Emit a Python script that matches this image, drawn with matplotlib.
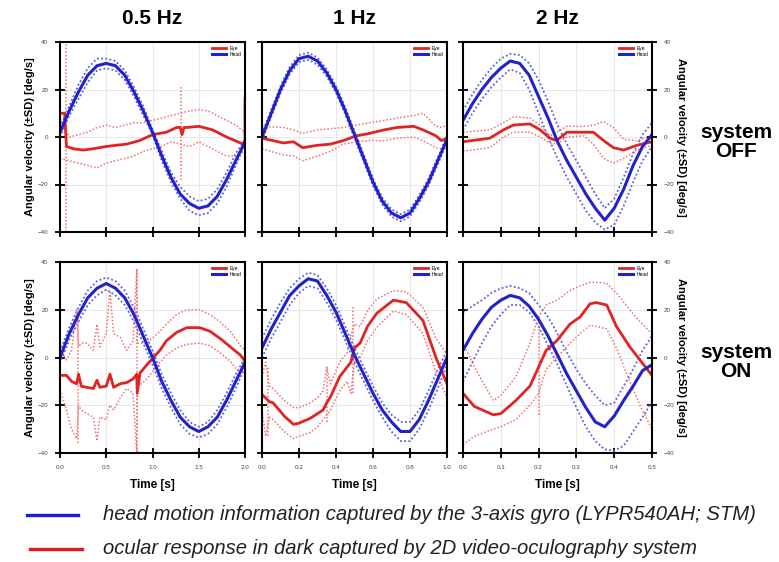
import matplotlib
matplotlib.use('Agg')
import matplotlib.pyplot as plt
from matplotlib.lines import Line2D

plt.rcParams['font.family'] = ['Liberation Sans', 'DejaVu Sans']

W, H = 779, 562

# ---------------- data ----------------
# 0.5 Hz, system OFF
t_head_05 = [0, 0.1, 0.2, 0.3, 0.4, 0.5, 0.6, 0.7, 0.8, 0.9, 1.0, 1.1, 1.2, 1.3, 1.4, 1.5, 1.6, 1.7, 1.8, 1.9, 2.0]
head_05_off = [2, 11, 19, 26, 30, 31, 30, 26, 19, 11, 2, -8, -17, -24, -28, -30, -29, -25, -18, -10, -2]
head_up_05_off = [4, 13, 22, 29, 33, 33, 32, 28, 21, 13, 3, -6, -15, -21, -25, -27, -26, -22, -15, -7, -1]
head_lo_05_off = [0, 9, 16, 23, 28, 29, 28, 24, 17, 9, 1, -10, -19, -26, -31, -33, -32, -28, -21, -12, -3]
t_eye_05_off = [0, 0.05, 0.07, 0.15, 0.25, 0.35, 0.5, 0.6, 0.72, 0.86, 1.0, 1.15, 1.26, 1.3, 1.32, 1.34, 1.37, 1.5, 1.65, 1.8, 1.95, 2.0, 2.0]
eye_05_off = [10, 10, -4, -5, -5.5, -5, -4, -3.5, -3, -1.5, 1, 2, 4, 4, 1, 4, 4, 4.5, 3, 0, -2.5, -3, 16]
t_eyesd_05_off = t_head_05
eye_up_05_off = [8, 0, 1, 2, 4, 5, 4, 5, 6, 6, 7, 8, 9, 10, 11, 11.5, 11, 9, 7, 5, 2]
eye_lo_05_off = [-9, -10, -11, -12, -13, -11, -10, -9, -8, -6, -5, -4, -2, -3, -4, -2, -4, -6, -8, -8, -6]
spk_t_05_off = [0.06, 1.31]
spk_lo_05_off = [-40, -18]
spk_hi_05_off = [40, 22]

# 1 Hz, system OFF
t_head_1 = [0, 0.05, 0.1, 0.15, 0.2, 0.25, 0.3, 0.35, 0.4, 0.45, 0.5, 0.55, 0.6, 0.65, 0.7, 0.75, 0.8, 0.85, 0.9, 0.95, 1.0]
head_1_off = [0, 10, 20, 28, 33, 34, 32, 27, 20, 11, 1, -9, -19, -27, -32, -34, -32, -26, -19, -10, -1]
head_up_1_off = [1.5, 11.5, 21.5, 29.5, 34.5, 35.5, 33.5, 28.5, 21.5, 12.5, 2.5, -7.5, -17.5, -25.5, -30.5, -32.5, -30.5, -24.5, -17.5, -8.5, 0.5]
head_lo_1_off = [-1.5, 8.5, 18.5, 26.5, 31.5, 32.5, 30.5, 25.5, 18.5, 9.5, -0.5, -10.5, -20.5, -28.5, -33.5, -35.5, -33.5, -27.5, -20.5, -11.5, -2.5]
t_eye_1_off = [0, 0.115, 0.17, 0.22, 0.30, 0.37, 0.44, 0.51, 0.58, 0.66, 0.73, 0.82, 0.87, 0.94, 0.97, 1.0]
eye_1_off = [-0.5, -2.5, -2, -4.5, -3.5, -3, -1.5, 0.5, 1.5, 3, 4, 4.5, 3, 0.5, -1.5, -0.5]
eye_up_1_off = [4.5, 4, 3, 1.5, 3, 3.5, 4, 5, 6, 7, 8, 9, 10, 4.5, 4, 5]
eye_lo_1_off = [-5, -7.5, -8, -10, -8, -6, -3, -2, -1.5, -1.5, -0.5, 0, -1.5, -4.5, -5, -4]

# 2 Hz, system OFF
t_head_2 = [0, 0.025, 0.05, 0.075, 0.1, 0.125, 0.15, 0.175, 0.2, 0.225, 0.25, 0.275, 0.3, 0.325, 0.35, 0.375, 0.4, 0.425, 0.45, 0.475, 0.5]
head_2_off = [7, 14, 20, 25, 29, 32, 31, 26, 17, 8, -2, -10, -17, -24, -30, -35, -30, -22, -12, -4, 1]
head_up_2_off = [11, 18, 24, 29, 33, 35, 34.5, 31, 24, 15, 5, -3, -10, -17, -24, -30, -26, -17, -7, 1, 6]
head_lo_2_off = [3, 10, 16, 21, 25, 28.5, 27, 20, 10, 0, -9, -17, -24, -31, -36, -39, -37, -29, -19, -10, -4]
t_eye_2_off = [0, 0.071, 0.107, 0.133, 0.177, 0.204, 0.23, 0.248, 0.275, 0.32, 0.345, 0.372, 0.398, 0.425, 0.46, 0.5]
eye_2_off = [-2, -0.5, 3, 5, 5.5, 3, -0.5, -1.5, 2, 2, 2, -1.5, -4.5, -5.5, -3.5, -2]
eye_up_2_off = [2, 3, 6, 8.5, 8, 5, 0.5, 2, 4.5, 4.5, 5, 6.5, 4, -1, -1.5, 0.5]
eye_lo_2_off = [-6, -4.5, 0, 2, 2, 0, -2.5, -3, 0, 0.5, -3, -9, -11, -9, -5.5, -3.5]

# 0.5 Hz, system ON
head_05_on = [0, 10, 18, 25, 29, 31, 29, 25, 18, 9, 0, -10, -18, -25, -29, -31, -29, -25, -18, -10, -2]
head_up_05_on = [2.5, 12.5, 21, 28, 32, 33.5, 32, 28, 21, 12, 3, -7, -15, -22, -27, -29, -27, -22, -15, -7, 0]
head_lo_05_on = [-2.5, 7.5, 15, 22, 26, 28.5, 26, 22, 15, 6, -3, -13, -21, -28, -32, -33.5, -32, -28, -21, -13, -4]
t_eye_05_on = [0, 0.07, 0.125, 0.18, 0.2, 0.23, 0.29, 0.36, 0.4, 0.43, 0.5, 0.54, 0.58, 0.65, 0.72, 0.79, 0.83, 0.835, 0.865, 0.94, 1.01, 1.08, 1.15, 1.26, 1.37, 1.51, 1.62, 1.73, 1.84, 1.95, 2.0]
eye_05_on = [-7.5, -7.5, -10, -11, -7, -12, -12.5, -13, -9.5, -12.5, -12, -7, -12.5, -11, -10.5, -9, -7, -15, -6.5, -3, 0, 3, 7, 10.5, 12.5, 12.5, 11, 8, 4.5, 1, -1.5]
eye_up_05_on = [3, -1, 3, 20, 4.5, 6, 6, 3, 14, 4.5, 10, 28, 10, 8.5, 3, 7, 37, 6, 6, 6, 8.5, 11, 14, 18, 20, 20, 18, 15, 11, 5, 3]
eye_lo_05_on = [-13.5, -22, -30, -34, -20, -22, -23.5, -25, -35, -25, -26, -20, -22, -17, -13, -15, -40, -12, -11.5, -9, -5.5, -2, 1, 4, 5.5, 6, 5, 2, -1.5, -7, -5]
spk_t_05_on = [0.83, 0.19]
spk_lo_05_on = [-40, -36]
spk_hi_05_on = [37, 20]

# 1 Hz, system ON
head_1_on = [4, 12, 19, 26, 30, 33, 32, 26, 19, 10, 1, -7, -15, -22, -27, -31, -31, -26, -18, -9, 0]
head_up_1_on = [8, 16, 23, 29, 33, 35.5, 34.5, 29, 22, 13, 4, -4, -12, -19, -24, -27, -27, -22, -14, -5, 3]
head_lo_1_on = [0, 8, 15, 22, 27, 30, 29, 23, 16, 7, -2, -10, -18, -25, -31, -35, -35, -30, -22, -13, -3]
t_eye_1_on = [0, 0.02, 0.04, 0.06, 0.12, 0.17, 0.2, 0.26, 0.3, 0.33, 0.35, 0.37, 0.42, 0.46, 0.48, 0.5, 0.53, 0.57, 0.62, 0.71, 0.78, 0.87, 0.94, 1.0]
eye_1_on = [-15.5, -17, -18.5, -19, -24.5, -28, -27.5, -25.5, -23.5, -22, -19, -16.5, -8, -4, -2, 4, 6, 13, 18.5, 24, 23, 15.5, 0, -11]
eye_up_1_on = [-8, -2, -12, -13, -18, -21, -21, -19, -17, -14, -4, -11, -2, 2, 9, 14, 13, 19.5, 24.5, 28, 27.5, 21, 8, 1.5]
eye_lo_1_on = [-22, -33, -25, -26, -31, -34, -33, -31.5, -29, -26, -24, -22, -14, -10, -15, -2, 0, 7, 12.5, 19.5, 18, 10, -6, -17]
spk_t_1_on = [0.03, 0.35, 0.49]
spk_lo_1_on = [-33, -27, -15]
spk_hi_1_on = [-4, -4, 22]

# 2 Hz, system ON
head_2_on = [3, 10, 16, 21, 24, 26, 25, 21.5, 16, 9, 1, -7, -14, -21, -27, -29, -24.5, -18, -12, -5.5, -3]
head_up_2_on = [19, 21.5, 24, 27, 29, 30, 29, 27, 22, 17, 10, 2, -5, -11, -16, -20, -19, -12, -5, 3, 9]
head_lo_2_on = [-10, -2, 6, 13, 18, 22, 22, 19, 13, 5, -3, -12, -21, -29, -35, -38.5, -39, -37, -31, -25, -18.5]
t_eye_2_on = [0, 0.03, 0.08, 0.1, 0.14, 0.177, 0.2, 0.22, 0.248, 0.283, 0.31, 0.336, 0.353, 0.38, 0.406, 0.441, 0.468, 0.5]
eye_2_on = [-15, -20.5, -24, -23.5, -18, -12, -4, 3, 7, 14, 17, 22.5, 23, 22, 13, 4.5, -1, -7.5]
eye_up_2_on = [6, -4, -18, -16, -8, 6, 17, 22, 24, 28, 30, 31.5, 31.5, 31, 27, 20, 15, 10]
eye_lo_2_on = [-36.5, -33, -30, -29, -26, -20, -15, -5, 0, 6, 10, 13.5, 13, 12, 4, -10, -20, -30]
spk_t_2_on = [0.2]
spk_lo_2_on = [-24]
spk_hi_2_on = [17]

titles = ['0.5 Hz', '1 Hz', '2 Hz']
x_max = [2.0, 1.0, 0.5]
x_step = [0.5, 0.2, 0.1]
y_ticks = [-40, -20, 0, 20, 40]

head_c = '#2222cc'
head_sd_c = '#5c5ce8'
eye_c = '#e02424'
eye_sd_c = '#f07070'


def fx(px):
    return px / W


def fy(py):
    return 1 - py / H


fig = plt.figure(figsize=(W / 100, H / 100), dpi=100)

lefts = [60, 262, 463]
widths = [185, 185, 189]
rows = [(42, 232), (262, 453)]

panels = [
    [
        (t_head_05, head_05_off, head_up_05_off, head_lo_05_off, t_eye_05_off, eye_05_off,
         t_eyesd_05_off, eye_up_05_off, eye_lo_05_off, spk_t_05_off, spk_lo_05_off, spk_hi_05_off),
        (t_head_1, head_1_off, head_up_1_off, head_lo_1_off, t_eye_1_off, eye_1_off,
         t_eye_1_off, eye_up_1_off, eye_lo_1_off, [], [], []),
        (t_head_2, head_2_off, head_up_2_off, head_lo_2_off, t_eye_2_off, eye_2_off,
         t_eye_2_off, eye_up_2_off, eye_lo_2_off, [], [], []),
    ],
    [
        (t_head_05, head_05_on, head_up_05_on, head_lo_05_on, t_eye_05_on, eye_05_on,
         t_eye_05_on, eye_up_05_on, eye_lo_05_on, spk_t_05_on, spk_lo_05_on, spk_hi_05_on),
        (t_head_1, head_1_on, head_up_1_on, head_lo_1_on, t_eye_1_on, eye_1_on,
         t_eye_1_on, eye_up_1_on, eye_lo_1_on, spk_t_1_on, spk_lo_1_on, spk_hi_1_on),
        (t_head_2, head_2_on, head_up_2_on, head_lo_2_on, t_eye_2_on, eye_2_on,
         t_eye_2_on, eye_up_2_on, eye_lo_2_on, spk_t_2_on, spk_lo_2_on, spk_hi_2_on),
    ],
]

dots = (0, (1, 1.3))

for r, (top, bot) in enumerate(rows):
    for c in range(3):
        (th, hm, hu, hl, te, em, tsd, eu, el, st, slo, shi) = panels[r][c]
        ax = fig.add_axes([fx(lefts[c]), fy(bot), fx(widths[c]), (bot - top) / H])
        ax.plot(th, hu, color=head_sd_c, lw=1.3, ls=dots)
        ax.plot(th, hl, color=head_sd_c, lw=1.3, ls=dots)
        ax.plot(tsd, eu, color=eye_sd_c, lw=1.1, ls=dots)
        ax.plot(tsd, el, color=eye_sd_c, lw=1.1, ls=dots)
        if st:
            ax.vlines(st, slo, shi, color=eye_sd_c, lw=1.1, ls=dots)
        le, = ax.plot(te, em, color=eye_c, lw=2.0, label='Eye')
        lh, = ax.plot(th, hm, color=head_c, lw=2.2, label='Head')
        ax.legend(handles=[le, lh], loc='upper right', fontsize=3.5, frameon=False,
                  handlelength=3, handletextpad=0.6, labelspacing=0.25, borderaxespad=0.4)

        xm = x_max[c]
        ax.set_xlim(0, xm)
        ax.set_ylim(-40, 40)
        n = int(round(xm / x_step[c]))
        xt = [i * x_step[c] for i in range(n + 1)]
        ax.set_xticks(xt)
        ax.set_yticks(y_ticks)
        ax.grid(True, color='#e4e4e4', lw=0.6)
        ax.set_axisbelow(True)
        for s in ax.spines.values():
            s.set_linewidth(1.5)
        ax.tick_params(direction='inout', length=7, width=1.3, labelsize=4.5,
                       labelcolor='#444444', pad=5)
        if r == 0:
            ax.tick_params(labelbottom=False)
        else:
            ax.set_xticklabels(['%.1f' % v for v in xt])
        if c == 1:
            ax.tick_params(labelleft=False)
        if c == 2:
            ax.tick_params(labelleft=False, labelright=True, right=True)

# column titles
for c in range(3):
    fig.text(fx(lefts[c] + widths[c] / 2), fy(18), titles[c], ha='center', va='center',
             fontsize=15, fontweight='bold')
    fig.text(fx(lefts[c] + widths[c] / 2), fy(485), 'Time [s]', ha='center', va='center',
             fontsize=8.5, fontweight='bold')

# y labels
ylab = 'Angular velocity (\u00b1SD) [deg/s]'
for top, bot in rows:
    fig.text(fx(30), fy((top + bot) / 2), ylab, rotation=90, ha='center', va='center',
             fontsize=8, fontweight='bold')
    fig.text(fx(681), fy((top + bot) / 2), ylab, rotation=270, ha='center', va='center',
             fontsize=8, fontweight='bold')

# row labels
fig.text(fx(736), fy(142), 'system\nOFF', ha='center', va='center', fontsize=15,
         fontweight='bold', linespacing=0.95)
fig.text(fx(736), fy(362), 'system\nON', ha='center', va='center', fontsize=15,
         fontweight='bold', linespacing=0.95)

# bottom legend
fig.add_artist(Line2D([fx(27), fx(78)], [fy(515), fy(515)], color='#1a1ae0', lw=2.4,
                      transform=fig.transFigure))
fig.add_artist(Line2D([fx(30), fx(82)], [fy(549), fy(549)], color='#e01a1a', lw=2.4,
                      transform=fig.transFigure))
fig.text(fx(103), fy(515), 'head motion information captured by the 3-axis gyro (LYPR540AH; STM)',
         ha='left', va='center', fontsize=14.6, style='italic', color='#222222')
fig.text(fx(103), fy(549), 'ocular response in dark captured by 2D video-oculography system',
         ha='left', va='center', fontsize=14.6, style='italic', color='#222222')

fig.savefig('out.png', dpi=100)
